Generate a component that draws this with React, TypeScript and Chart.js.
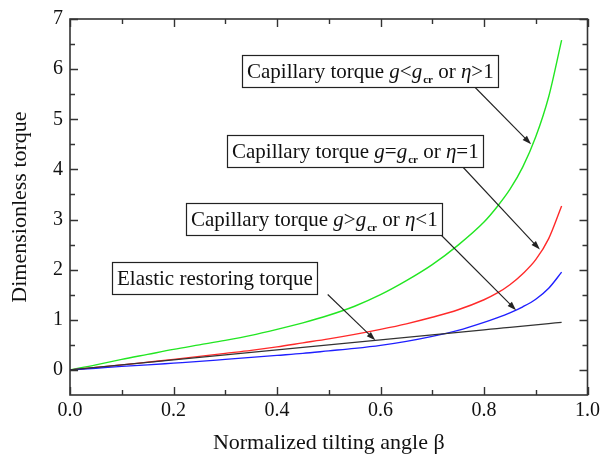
import React, { useEffect, useRef } from "react";
import { Chart, registerables } from "chart.js";

Chart.register(...registerables);

// ---------- data ----------
const beta = [0, 0.05, 0.1, 0.15, 0.2, 0.25, 0.3, 0.35, 0.4, 0.45, 0.5, 0.55, 0.6, 0.65, 0.7, 0.75, 0.8, 0.825, 0.85, 0.875, 0.9, 0.925, 0.95];
const torqueEtaGt1 = [0, 0.1, 0.21, 0.31, 0.41, 0.5, 0.59, 0.69, 0.81, 0.94, 1.09, 1.27, 1.5, 1.78, 2.1, 2.49, 2.95, 3.25, 3.6, 4.05, 4.65, 5.45, 6.58];
const torqueEtaEq1 = [0, 0.05, 0.1, 0.155, 0.21, 0.27, 0.33, 0.39, 0.46, 0.54, 0.62, 0.71, 0.81, 0.92, 1.05, 1.2, 1.4, 1.53, 1.7, 1.92, 2.2, 2.62, 3.27];
const torqueEtaLt1 = [0, 0.035, 0.07, 0.1, 0.135, 0.17, 0.21, 0.25, 0.29, 0.33, 0.38, 0.43, 0.49, 0.57, 0.67, 0.79, 0.95, 1.04, 1.14, 1.26, 1.41, 1.63, 1.95];
const elasticTorque = [0, 0.05, 0.1, 0.15, 0.2, 0.25, 0.3, 0.35, 0.4, 0.45, 0.5, 0.55, 0.6, 0.65, 0.7, 0.75, 0.8, 0.825, 0.85, 0.875, 0.9, 0.925, 0.95];

const xMajorTicks = [0, 0.2, 0.4, 0.6, 0.8, 1.0];
const xMinorTicks = [0.1, 0.3, 0.5, 0.7, 0.9];
const yMajorTicks = [0, 1, 2, 3, 4, 5, 6, 7];
const yMinorTicks = [0.5, 1.5, 2.5, 3.5, 4.5, 5.5, 6.5];

const xTitle = "Normalized tilting angle β";
const yTitle = "Dimensionless torque";

type Part = { t: string; s: "n" | "i" | "sub" };
const capParts = (rel: string, etaRel: string): Part[] => [
  { t: "Capillary torque ", s: "n" },
  { t: "g", s: "i" },
  { t: rel, s: "n" },
  { t: "g", s: "i" },
  { t: "cr", s: "sub" },
  { t: " or ", s: "n" },
  { t: "η", s: "i" },
  { t: etaRel, s: "n" },
];

// annotation: box left (beta), box centre (torque), arrow start (beta at box bottom), arrow tip (data)
const annotations = [
  { parts: capParts("<", ">1"), x: 0.333, y: 5.96, from: 0.783, tip: [0.891, 4.5] },
  { parts: capParts("=", "=1"), x: 0.303, y: 4.37, from: 0.76, tip: [0.908, 2.4] },
  { parts: capParts(">", "<1"), x: 0.225, y: 3.02, from: 0.718, tip: [0.862, 1.19] },
  { parts: [{ t: "Elastic restoring torque", s: "n" }] as Part[], x: 0.081, y: 1.84, from: 0.498, tip: [0.59, 0.59] },
];

const SERIF = "'Liberation Serif', 'Times New Roman', serif";

const framePlugin = {
  id: "frameAndNotes",
  afterDatasetsDraw(chart: any) {
    const { ctx, chartArea } = chart;
    const xs = chart.scales.x;
    const ys = chart.scales.y;
    const { left, right, top, bottom } = chartArea;
    ctx.save();
    ctx.strokeStyle = "#333";
    ctx.lineWidth = 1.6;
    ctx.strokeRect(left, top, right - left, bottom - top);
    ctx.lineWidth = 1.4;
    const major = 8, minor = 5;
    ctx.beginPath();
    const xt = (v: number, len: number) => {
      const p = Math.round(xs.getPixelForValue(v)) + 0.5;
      ctx.moveTo(p, bottom); ctx.lineTo(p, bottom - len);
      ctx.moveTo(p, top); ctx.lineTo(p, top + len);
    };
    const yt = (v: number, len: number) => {
      const p = Math.round(ys.getPixelForValue(v)) + 0.5;
      ctx.moveTo(left, p); ctx.lineTo(left + len, p);
      ctx.moveTo(right, p); ctx.lineTo(right - len, p);
    };
    xMajorTicks.forEach((v) => xt(v, major));
    xMinorTicks.forEach((v) => xt(v, minor));
    yMajorTicks.forEach((v) => yt(v, major));
    yMinorTicks.forEach((v) => yt(v, minor));
    ctx.stroke();

    // annotations
    const fontN = `21px ${SERIF}`;
    const fontI = `italic 21px ${SERIF}`;
    const fontS = `bold 11px ${SERIF}`;
    const fontFor = (s: string) => (s === "i" ? fontI : s === "sub" ? fontS : fontN);
    annotations.forEach((a) => {
      let w = 0;
      a.parts.forEach((p) => {
        ctx.font = fontFor(p.s);
        w += ctx.measureText(p.t).width + (p.s === "sub" ? 1 : 0);
      });
      const bx = Math.round(xs.getPixelForValue(a.x)) + 0.5;
      const cy = ys.getPixelForValue(a.y);
      const h = 32;
      const by = Math.round(cy - h / 2) + 0.5;
      const bw = Math.round(w + 9);
      ctx.fillStyle = "#fff";
      ctx.fillRect(bx, by, bw, h);
      ctx.strokeStyle = "#222";
      ctx.lineWidth = 1.2;
      ctx.strokeRect(bx, by, bw, h);
      let tx = bx + 4.5;
      const base = cy + 7;
      ctx.fillStyle = "#111";
      ctx.textBaseline = "alphabetic";
      ctx.textAlign = "left";
      a.parts.forEach((p) => {
        ctx.font = fontFor(p.s);
        const yy = p.s === "sub" ? base + 5 : base;
        ctx.fillText(p.t, tx + (p.s === "sub" ? 1 : 0), yy);
        tx += ctx.measureText(p.t).width + (p.s === "sub" ? 1 : 0);
      });
      // arrow
      const x0 = xs.getPixelForValue(a.from);
      const y0 = by + h;
      const x1 = xs.getPixelForValue(a.tip[0]);
      const y1 = ys.getPixelForValue(a.tip[1]);
      const ang = Math.atan2(y1 - y0, x1 - x0);
      const L = 9, W = 3;
      ctx.strokeStyle = "#222";
      ctx.lineWidth = 1.1;
      ctx.beginPath();
      ctx.moveTo(x0, y0);
      ctx.lineTo(x1 - Math.cos(ang) * L * 0.8, y1 - Math.sin(ang) * L * 0.8);
      ctx.stroke();
      ctx.fillStyle = "#222";
      ctx.beginPath();
      ctx.moveTo(x1, y1);
      ctx.lineTo(x1 - Math.cos(ang) * L - Math.sin(ang) * W, y1 - Math.sin(ang) * L + Math.cos(ang) * W);
      ctx.lineTo(x1 - Math.cos(ang) * L + Math.sin(ang) * W, y1 - Math.sin(ang) * L - Math.cos(ang) * W);
      ctx.closePath();
      ctx.fill();
    });
    ctx.restore();
  },
};

export default function App() {
  const ref = useRef<HTMLCanvasElement | null>(null);
  useEffect(() => {
    if (!ref.current) return;
    const mk = (vals: number[]) => beta.map((b, i) => ({ x: b, y: vals[i] }));
    const ds = (label: string, vals: number[], color: string, width = 1.4) => ({
      label,
      data: mk(vals),
      borderColor: color,
      backgroundColor: color,
      borderWidth: width,
      pointRadius: 0,
      showLine: true,
      cubicInterpolationMode: "monotone" as const,
      fill: false,
    });
    const chart = new Chart(ref.current, {
      type: "scatter",
      data: {
        datasets: [
          ds("Elastic restoring torque", elasticTorque, "#333", 1.3),
          ds("Capillary torque η<1", torqueEtaLt1, "#1f1fff"),
          ds("Capillary torque η=1", torqueEtaEq1, "#ff2a2a"),
          ds("Capillary torque η>1", torqueEtaGt1, "#22e622"),
        ],
      },
      options: {
        animation: false,
        responsive: false,
        devicePixelRatio: 1,
        layout: { padding: { top: 11, right: 14, left: 0, bottom: 0 } },
        plugins: { legend: { display: false }, tooltip: { enabled: false } },
        scales: {
          x: {
            type: "linear",
            min: 0,
            max: 1,
            afterBuildTicks: (s: any) => { s.ticks = xMajorTicks.map((v) => ({ value: v })); },
            afterFit: (s: any) => { s.height = 69; },
            ticks: {
              callback: (v: any) => Number(v).toFixed(1),
              font: { family: SERIF, size: 20 },
              color: "#111",
              padding: 4,
              maxRotation: 0,
              autoSkip: false,
            },
            grid: { display: false, drawTicks: false },
            border: { display: false },
            title: {
              display: true,
              text: xTitle,
              font: { family: SERIF, size: 22 },
              color: "#111",
              padding: { top: 4, bottom: 8 },
            },
          },
          y: {
            type: "linear",
            min: -0.5,
            max: 7,
            afterBuildTicks: (s: any) => { s.ticks = yMajorTicks.map((v) => ({ value: v })); },
            afterFit: (s: any) => { s.width = 70; },
            ticks: {
              callback: (v: any) => String(v),
              font: { family: SERIF, size: 20 },
              color: "#111",
              padding: 7,
              autoSkip: false,
            },
            grid: { display: false, drawTicks: false },
            border: { display: false },
            title: {
              display: true,
              text: yTitle,
              font: { family: SERIF, size: 22 },
              color: "#111",
              padding: { top: 7, bottom: 4 },
            },
          },
        },
      },
      plugins: [framePlugin],
    });
    return () => chart.destroy();
  }, []);
  return (
    <div style={{ position: "fixed", left: 0, top: 0, width: 604, height: 464, background: "#fff" }}>
      <canvas ref={ref} width={604} height={464} style={{ width: 604, height: 464, display: "block" }} />
    </div>
  );
}
